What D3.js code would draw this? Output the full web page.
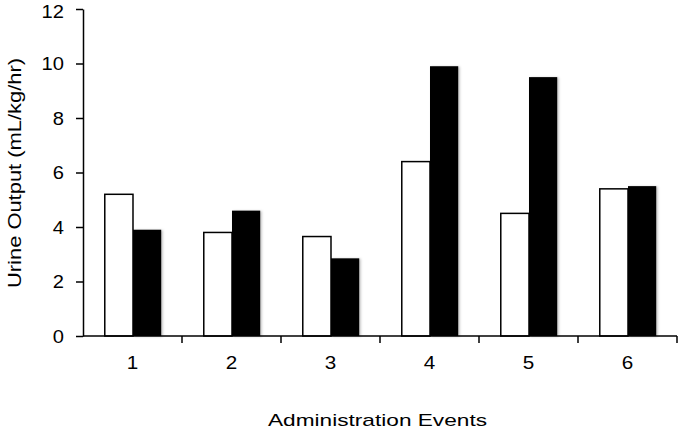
<!DOCTYPE html>
<html>
<head>
<meta charset="utf-8">
<script src="https://cdn.jsdelivr.net/npm/d3@7"></script>
<style>
  body { margin: 0; background: #fff; }
  text { font-family: "Liberation Sans", Arial, sans-serif; }
</style>
</head>
<body>
<div id="wrapper"></div>
<script>
const events = ["1", "2", "3", "4", "5", "6"];
const whiteSeries = [5.2, 3.8, 3.65, 6.4, 4.5, 5.4];
const blackSeries = [3.9, 4.6, 2.85, 9.9, 9.5, 5.5];
const yTicks = [0, 2, 4, 6, 8, 10, 12];

const dataset = events.map((e, i) => ({ event: e, white: whiteSeries[i], black: blackSeries[i] }));

// dimensions
let dimensions = {
  width: 678,
  height: 430,
  marginTop: 9,
  marginRight: 1,
  marginBottom: 94,
  marginLeft: 83
};
dimensions.boundedWidth = dimensions.width - dimensions.marginLeft - dimensions.marginRight;
dimensions.boundedHeight = dimensions.height - dimensions.marginTop - dimensions.marginBottom;

const wrapper = d3.select("#wrapper")
  .append("svg")
    .attr("width", dimensions.width)
    .attr("height", dimensions.height);

// soft shadow like the original export
const defs = wrapper.append("defs");
defs.append("filter")
    .attr("id", "shadow")
    .attr("x", "-20%").attr("y", "-5%")
    .attr("width", "140%").attr("height", "110%")
  .append("feDropShadow")
    .attr("dx", 1.5).attr("dy", 0.5)
    .attr("stdDeviation", 1)
    .attr("flood-color", "#000")
    .attr("flood-opacity", 0.25);

const bounds = wrapper.append("g")
    .attr("transform", `translate(${dimensions.marginLeft},${dimensions.marginTop})`);

// scales
const xScale = d3.scaleBand()
  .domain(events)
  .range([0, dimensions.boundedWidth]);

const subScale = d3.scaleBand()
  .domain(["white", "black"])
  .range([xScale.bandwidth() * 0.22, xScale.bandwidth() * 0.79]);

const yScale = d3.scaleLinear()
  .domain([0, 12])
  .range([dimensions.boundedHeight, 0]);

// bars
const groups = bounds.selectAll(".group")
    .data(dataset)
  .enter().append("g")
    .attr("class", "group")
    .attr("transform", d => `translate(${xScale(d.event)},0)`);

groups.append("rect")
    .attr("x", subScale("black"))
    .attr("y", d => yScale(d.black))
    .attr("width", subScale.bandwidth())
    .attr("height", d => yScale(0) - yScale(d.black))
    .attr("fill", "#000")
    .attr("filter", "url(#shadow)");

groups.append("rect")
    .attr("x", subScale("white"))
    .attr("y", d => yScale(d.white))
    .attr("width", subScale.bandwidth())
    .attr("height", d => yScale(0) - yScale(d.white))
    .attr("fill", "#fff")
    .attr("stroke", "#000")
    .attr("stroke-width", 1.5);

// axes
const xAxis = bounds.append("g")
    .attr("transform", `translate(0,${dimensions.boundedHeight})`)
    .call(d3.axisBottom(xScale).tickSize(0).tickPadding(20));

// category boundary ticks
xAxis.selectAll(".boundary")
    .data(events)
  .enter().append("line")
    .attr("class", "boundary")
    .attr("x1", d => xScale(d) + xScale.bandwidth())
    .attr("x2", d => xScale(d) + xScale.bandwidth())
    .attr("y1", 0)
    .attr("y2", 7)
    .attr("stroke", "#000")
    .attr("stroke-width", 1.5);

xAxis.select(".domain").attr("stroke-width", 1.5).attr("d", `M0,0H${dimensions.boundedWidth}`);
xAxis.selectAll(".tick text")
    .attr("font-size", 19)
    .attr("fill", "#000")
    .attr("textLength", 11.5)
    .attr("lengthAdjust", "spacingAndGlyphs");

const yAxis = bounds.append("g")
    .call(d3.axisLeft(yScale).tickValues(yTicks).tickSize(7).tickSizeOuter(0).tickPadding(12));

yAxis.select(".domain").attr("stroke-width", 1.5);
yAxis.selectAll(".tick line").attr("stroke-width", 1.5);
yAxis.selectAll(".tick text")
    .attr("font-size", 19)
    .attr("fill", "#000")
    .attr("textLength", d => String(d).length * 11.2)
    .attr("lengthAdjust", "spacingAndGlyphs");

// keep the top label inside the frame
yAxis.selectAll(".tick text")
    .filter(d => d === 12)
    .attr("y", 2);

// titles
wrapper.append("text")
    .attr("transform", `translate(21,173) rotate(-90)`)
    .attr("text-anchor", "middle")
    .attr("font-size", 18)
    .attr("textLength", 230)
    .attr("lengthAdjust", "spacingAndGlyphs")
    .text("Urine Output (mL/kg/hr)");

wrapper.append("text")
    .attr("x", 377.5)
    .attr("y", 426)
    .attr("text-anchor", "middle")
    .attr("font-size", 17)
    .attr("textLength", 219)
    .attr("lengthAdjust", "spacingAndGlyphs")
    .text("Administration Events");
</script>
</body>
</html>
